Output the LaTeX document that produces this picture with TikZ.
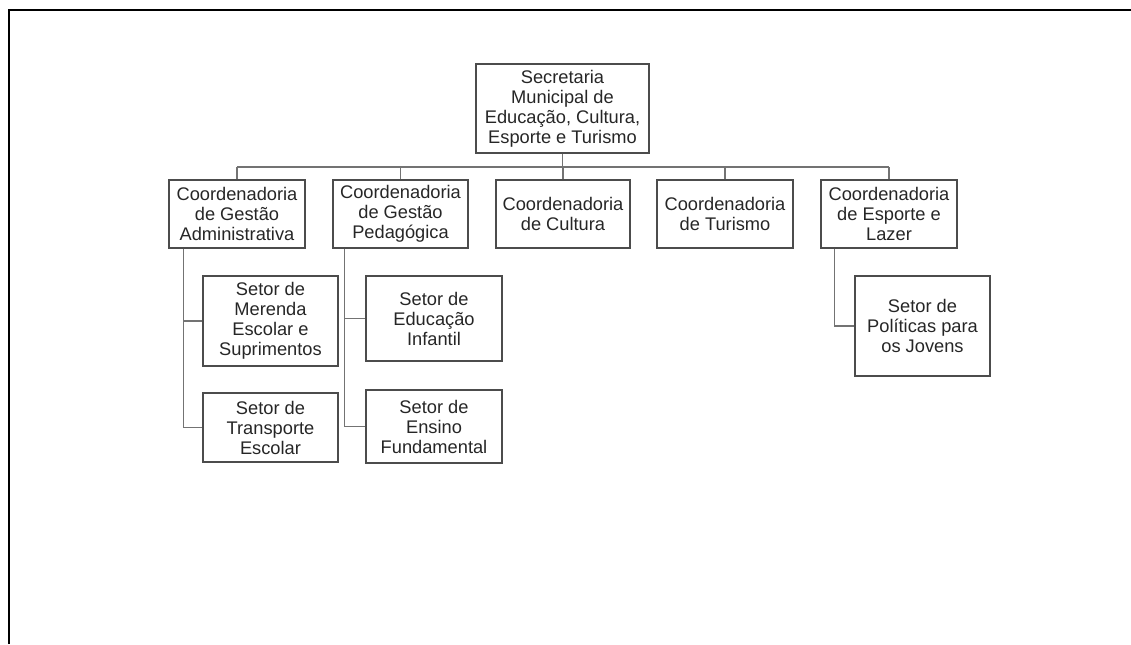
\documentclass[tikz,border=0pt]{standalone}
\usepackage{fontspec}
\setmainfont{Liberation Sans}
\begin{document}
\begin{tikzpicture}[x=0.75pt,y=-0.75pt,
  box/.style={draw=black!70,line width=0.8pt,rectangle,inner sep=0pt,align=center,
    text=black!85,font={\fontsize{13.7}{15}\selectfont}},
  link/.style={draw=black!55,line width=0.8pt}]
\useasboundingbox (0,0) rectangle (1131,644);
\draw[line width=1.6pt,black] (9,644) -- (9,10) -- (1131,10);
% top
\node[box,minimum width=173*0.75pt,minimum height=89*0.75pt] (sec) at (562.5,108.5)
  {Secretaria\\Municipal de\\Educação, Cultura,\\Esporte e Turismo};
% coordenadorias
\node[box,minimum width=136*0.75pt,minimum height=68*0.75pt] (adm) at (237,214)
  {Coordenadoria\\de Gestão\\Administrativa};
\node[box,minimum width=135*0.75pt,minimum height=68*0.75pt] (ped) at (400.5,214)
  {Coordenadoria\\de Gestão\\Pedagógica};
\node[box,minimum width=134*0.75pt,minimum height=68*0.75pt] (cul) at (563,214)
  {Coordenadoria\\de Cultura};
\node[box,minimum width=136*0.75pt,minimum height=68*0.75pt] (tur) at (725,214)
  {Coordenadoria\\de Turismo};
\node[box,minimum width=136*0.75pt,minimum height=68*0.75pt] (esp) at (889,214)
  {Coordenadoria\\de Esporte e\\Lazer};
% setores
\node[box,minimum width=135*0.75pt,minimum height=90*0.75pt] (mer) at (270.5,321)
  {Setor de\\Merenda\\Escolar e\\Suprimentos};
\node[box,minimum width=135*0.75pt,minimum height=69*0.75pt] (tra) at (270.5,427.5)
  {Setor de\\Transporte\\Escolar};
\node[box,minimum width=136*0.75pt,minimum height=85*0.75pt] (inf) at (434,318.5)
  {Setor de\\Educação\\Infantil};
\node[box,minimum width=136*0.75pt,minimum height=73*0.75pt] (fun) at (434,426.5)
  {Setor de\\Ensino\\Fundamental};
\node[box,minimum width=135*0.75pt,minimum height=100*0.75pt] (pol) at (922.5,326)
  {Setor de\\Políticas para\\os Jovens};
% bus
\coordinate (busL) at (237,167);
\coordinate (busR) at (889,167);
\draw[link] (busL) -- (busR);
\draw[link] (sec.south) -- (sec.south |- busL);
\foreach \n in {adm,ped,cul,tur,esp} \draw[link] (\n.north) -- (\n.north |- busL);
% sub links
\draw[link] ([xshift=15*0.75pt]adm.south west) |- (mer.west);
\draw[link] ([xshift=15*0.75pt]adm.south west) |- (tra.west);
\draw[link] ([xshift=12*0.75pt]ped.south west) |- (inf.west);
\draw[link] ([xshift=12*0.75pt]ped.south west) |- (fun.west);
\draw[link] ([xshift=14*0.75pt]esp.south west) |- (pol.west);
\end{tikzpicture}
\end{document}
